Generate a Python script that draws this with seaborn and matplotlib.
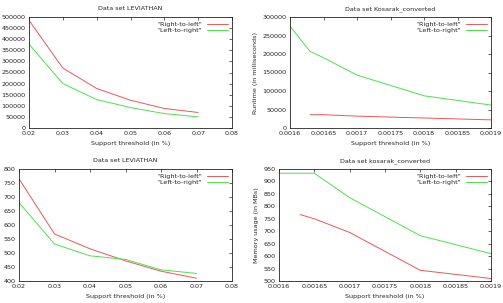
import matplotlib
matplotlib.use("Agg")
import matplotlib.pyplot as plt
import numpy as np
import pandas as pd
import seaborn as sns

# LEVIATHAN data set
lev_support = [0.02, 0.03, 0.04, 0.05, 0.06, 0.07]
lev_runtime_rtl = [485000, 270000, 178000, 125000, 88000, 70000]
lev_runtime_ltr = [378000, 200000, 128000, 92000, 65000, 50000]
lev_memory_rtl = [765, 568, 515, 472, 435, 410]
lev_memory_ltr = [680, 532, 490, 477, 440, 427]

# Kosarak_converted data set
kos_support = [0.0016, 0.00163, 0.00165, 0.0017, 0.0018, 0.0019]
kos_runtime_rtl = [np.nan, 36000, 36000, 32000, 27000, 22000]
kos_runtime_ltr = [275000, 207000, 190000, 143000, 87000, 62000]
kos_memory_rtl = [np.nan, 767, 750, 695, 543, 510]
kos_memory_ltr = [933, 933, 933, 835, 682, 610]

series_names = ['"Right-to-left"', '"Left-to-right"']
colors = {'"Right-to-left"': "#e8585a", '"Left-to-right"': "#4ee04e"}

sns.set_theme(style="white")
plt.rcParams["font.family"] = ["DejaVu Sans"]
plt.rcParams["font.size"] = 4.6

fig = plt.figure(figsize=(5.03, 3.03), dpi=100)
W, H = 503, 303


def make_df(x, rtl, ltr):
    return pd.DataFrame({
        "support": list(x) * 2,
        "value": list(rtl) + list(ltr),
        "series": [series_names[0]] * len(x) + [series_names[1]] * len(x),
    }).dropna()


def panel(box, df, title, ylabel, xlim, xticks, xfmt, ylim, yticks):
    left, top, right, bottom = box
    ax = fig.add_axes([left / W, 1 - bottom / H, (right - left) / W, (bottom - top) / H])
    sns.lineplot(data=df, x="support", y="value", hue="series", palette=colors,
                 linewidth=0.7, ax=ax, legend=True)
    ax.set_xlim(*xlim)
    ax.set_ylim(*ylim)
    ax.set_xticks(xticks)
    ax.set_xticklabels([xfmt(t) for t in xticks])
    ax.set_yticks(yticks)
    ax.set_yticklabels([str(t) for t in yticks])
    ax.tick_params(direction="in", length=2.5, width=0.5, top=True, right=True,
                   labelsize=4.6, pad=2.5, colors="#222222")
    for s in ax.spines.values():
        s.set_linewidth(0.6)
        s.set_color("#222222")
    ax.set_title(title, fontsize=4.6, pad=5)
    ax.set_xlabel("Support threshold (in %)", fontsize=4.6, labelpad=3)
    ax.set_ylabel(ylabel, fontsize=4.6, labelpad=3)
    leg = ax.legend(loc="upper right", frameon=False, fontsize=4.6,
                    markerfirst=False, handlelength=3.2, handletextpad=0.8,
                    labelspacing=0.1, borderaxespad=0.3)
    for t in leg.get_texts():
        t.set_ha("right")
    for line in leg.get_lines():
        line.set_linewidth(0.7)
    return ax


lev_fmt = lambda t: f"{t:.2f}"
kos_fmt = lambda t: f"{t:g}" if t != 0.0016 else "0.0016"

panel((29, 17, 232, 128), make_df(lev_support, lev_runtime_rtl, lev_runtime_ltr),
      "Data set LEVIATHAN", "", (0.02, 0.08),
      [0.02, 0.03, 0.04, 0.05, 0.06, 0.07, 0.08], lev_fmt,
      (0, 500000), list(range(0, 500001, 50000)))

panel((290, 17, 491, 128), make_df(kos_support, kos_runtime_rtl, kos_runtime_ltr),
      "Data set Kosarak_converted", "Runtime (in milliseconds)", (0.0016, 0.0019),
      [0.0016, 0.00165, 0.0017, 0.00175, 0.0018, 0.00185, 0.0019], kos_fmt,
      (0, 300000), list(range(0, 300001, 50000)))

panel((19, 169, 232, 281), make_df(lev_support, lev_memory_rtl, lev_memory_ltr),
      "Data set LEVIATHAN", "", (0.02, 0.08),
      [0.02, 0.03, 0.04, 0.05, 0.06, 0.07, 0.08], lev_fmt,
      (400, 800), list(range(400, 801, 50)))

panel((279, 169, 491, 281), make_df(kos_support, kos_memory_rtl, kos_memory_ltr),
      "Data set kosarak_converted", "Memory usage (in MBs)", (0.0016, 0.0019),
      [0.0016, 0.00165, 0.0017, 0.00175, 0.0018, 0.00185, 0.0019], kos_fmt,
      (500, 950), list(range(500, 951, 50)))

fig.savefig("out.png", dpi=100)
